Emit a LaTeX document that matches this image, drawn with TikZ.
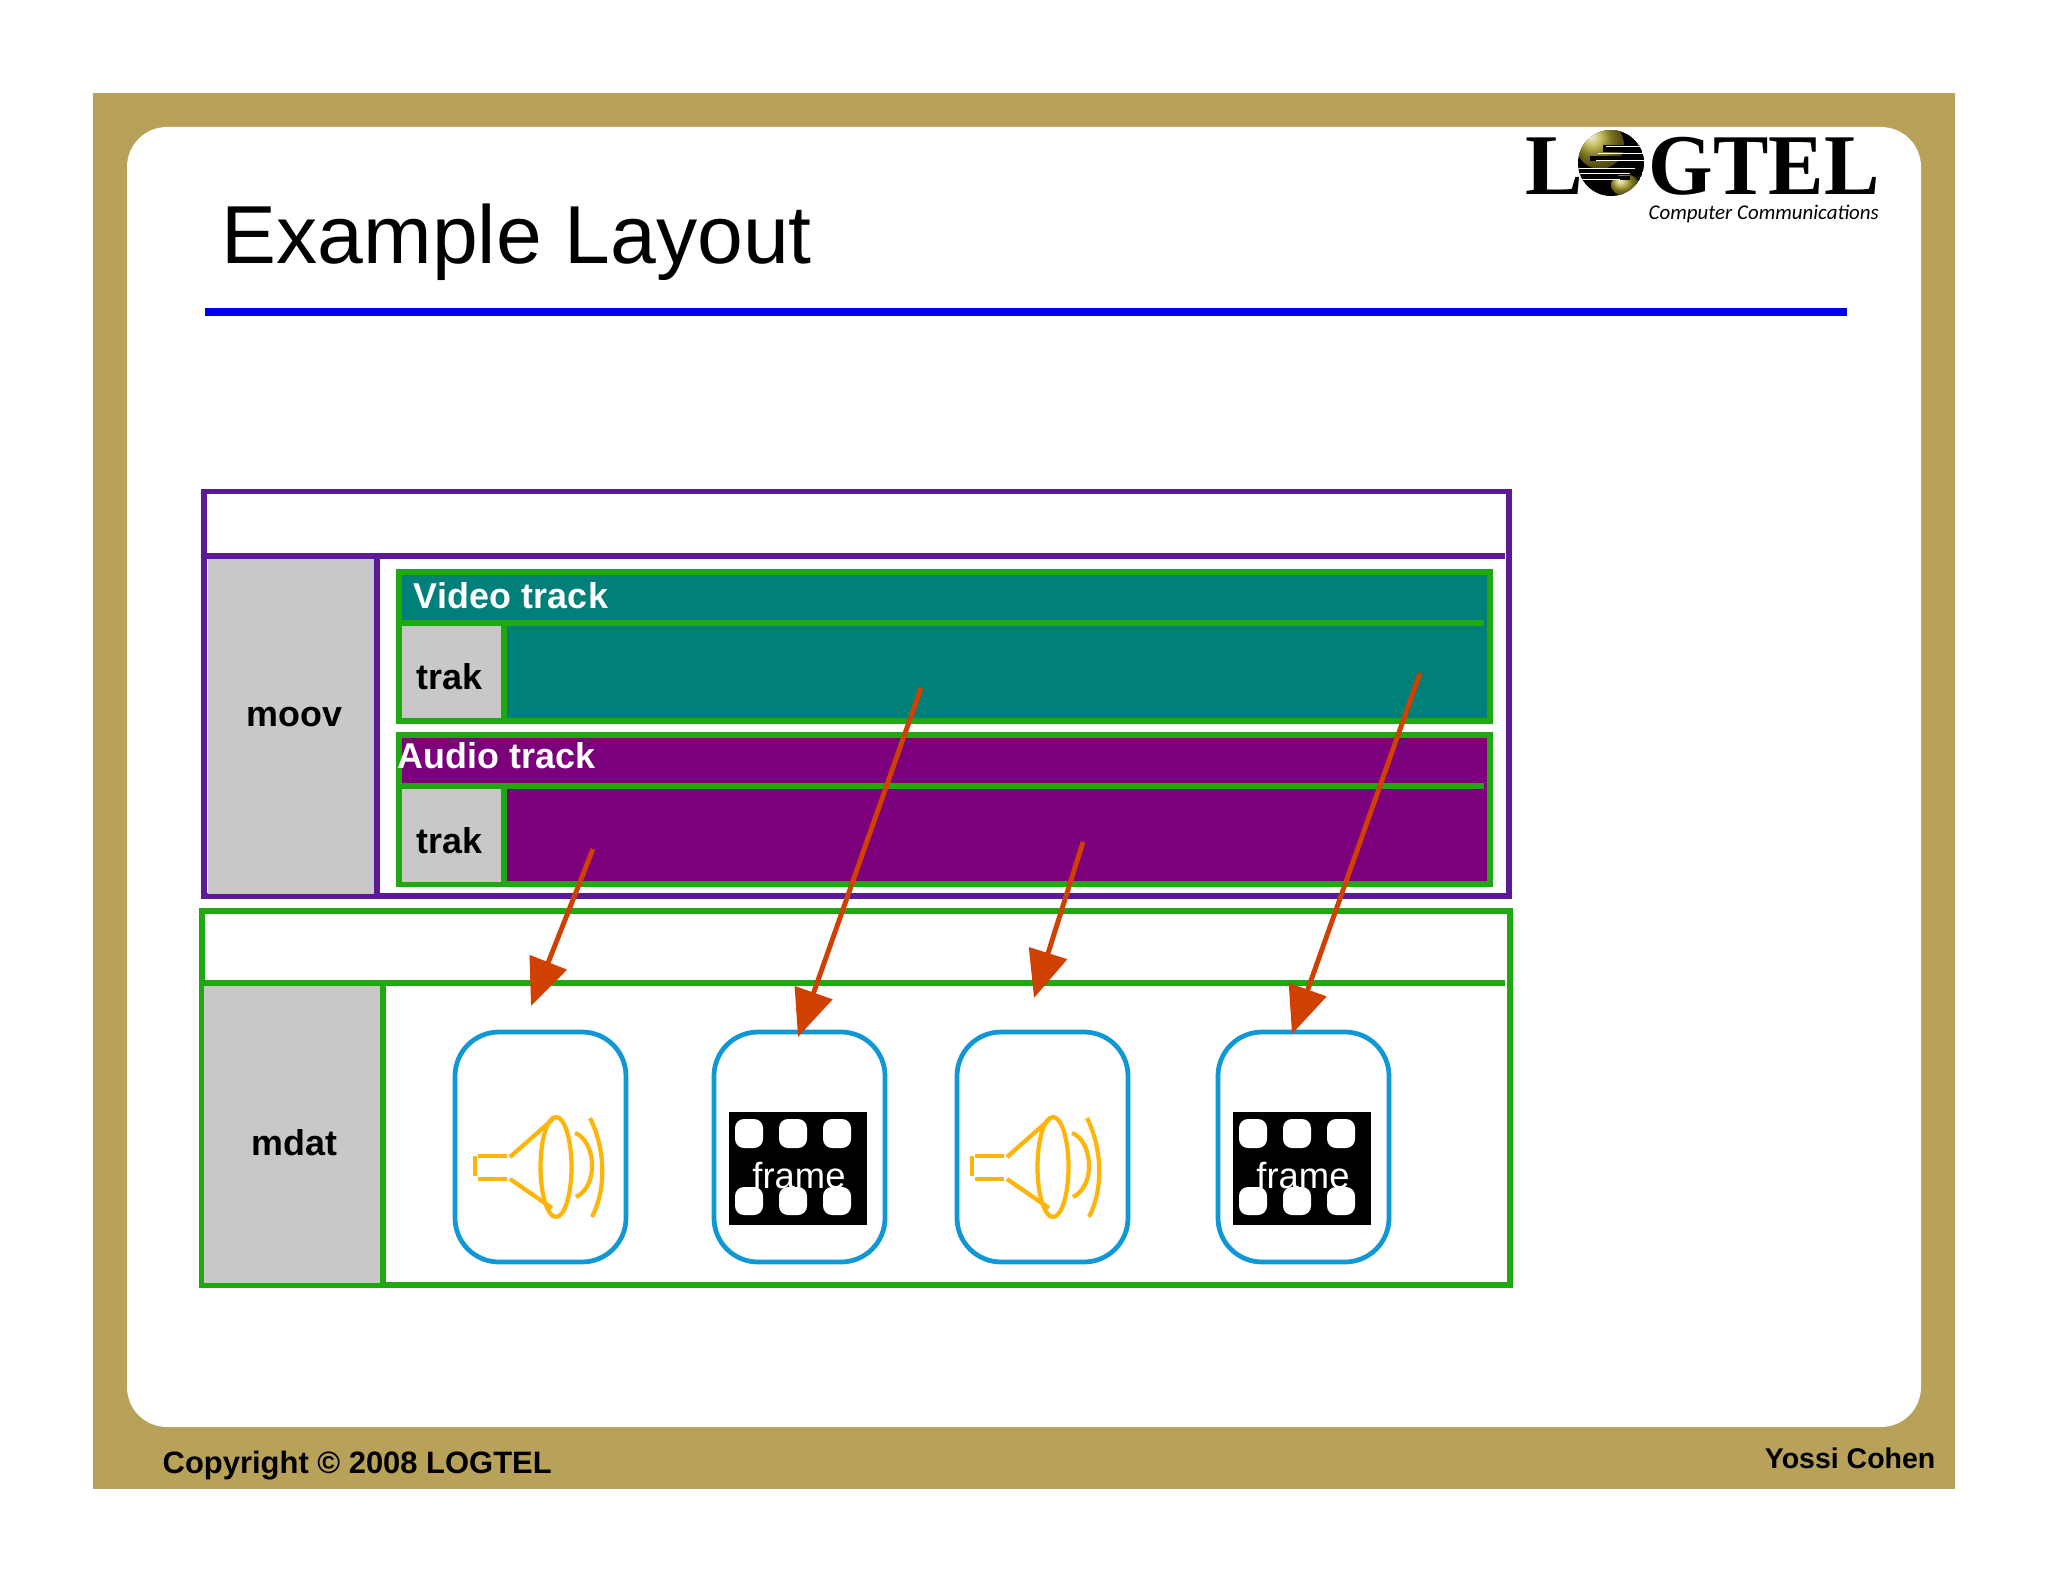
\documentclass[tikz,border=0pt]{standalone}
\usepackage{fontspec}
\setmainfont{Liberation Sans}
\newfontfamily\logoserif{Liberation Serif}
\newfontfamily\logosans{Carlito}
\usetikzlibrary{arrows.meta}
\definecolor{goldbar}{HTML}{B8A25A}
\definecolor{rulecol}{HTML}{0000F0}
\definecolor{boxpurple}{HTML}{5C1A99}
\definecolor{boxgreen}{HTML}{1FA80F}
\definecolor{tealfill}{HTML}{008078}
\definecolor{plumfill}{HTML}{7C007C}
\definecolor{greyfill}{HTML}{C8C8C6}
\definecolor{iconblue}{HTML}{0F97D6}
\definecolor{iconorange}{HTML}{FFB40A}
\definecolor{arrowred}{HTML}{D04000}
\definecolor{globeolive}{HTML}{B3A62E}
\tikzset{
  x=0.01cm,y=-0.01cm,
  purpleline/.style={draw=boxpurple,line width=1.5pt},
  greenline/.style={draw=boxgreen,line width=1.5pt},
  iconbox/.style={draw=iconblue,line width=1.35pt,fill=white,rounded corners=0.44cm},
  txt/.style={inner sep=0pt,anchor=base west,font=\bfseries\fontsize{10.2}{12}\selectfont},
  framelabel/.style={inner sep=0pt,anchor=base,text=white,font=\fontsize{10.35}{12}\selectfont},
  speakerline/.style={draw=iconorange,line width=1.2pt},
  redarrow/.style={draw=arrowred,line width=1.4pt,-{Triangle[length=0.47cm,width=0.39cm]},fill=arrowred},
}
\newcommand{\speakericon}[1]{%
  \begin{scope}[shift={(#1,0)}]
    \draw[speakerline] (507,1155.7) -- (478,1155.7);
    \draw[speakerline] (475,1156) -- (475,1176);
    \draw[speakerline] (478,1179) -- (507,1179);
    \draw[speakerline] (510,1157) -- (553,1119);
    \draw[speakerline] (510,1179) -- (552,1208);
    \draw[speakerline] (556,1167) ellipse [x radius=15.5,y radius=50];
    \draw[speakerline] (575,1133) .. controls (595,1140) and (600,1185) .. (576,1197);
    \draw[speakerline] (590,1118) .. controls (606,1150) and (606,1190) .. (592,1217);
  \end{scope}}
\newcommand{\filmicon}[2]{%
  \fill[black] (#1,1112) rectangle ++(138,113);
  \foreach \hx in {6,50,94}{
    \fill[white,rounded corners=0.09cm] (#1+\hx,1119) rectangle ++(28,29);
    \fill[white,rounded corners=0.09cm] (#1+\hx,1187) rectangle ++(28,28);
  }
  \node[framelabel] (#2) at (#1+70,1188) {frame};}
\begin{document}
\begin{tikzpicture}
\useasboundingbox (0,0) rectangle (2048,1582);
\fill[white] (0,0) rectangle (2048,1582);
% slide frame
\fill[goldbar] (93,93) rectangle (1955,1489);
\fill[white,rounded corners=0.4cm] (127,127) rectangle (1921,1427);
% title
\node[inner sep=0pt,anchor=base west,font=\fontsize{23.4}{28}\selectfont] (title) at (221,264) {Example Layout};
\fill[rulecol] (205,308) rectangle (1847,316);
% logo
\node[inner sep=0pt,anchor=base west,font=\logoserif\bfseries\fontsize{24.6}{28}\selectfont] (logoL) at (1525,195) {L};
\node[inner sep=0pt,anchor=base west,font=\logoserif\bfseries\fontsize{24.6}{28}\selectfont] (logoG) at (1648,195) {\scalebox{.96}[1]{GTEL}};
\begin{scope}
  \clip (1611,163) circle [radius=33];
  \fill[black] (1611,163) circle [radius=33];
  \shade[ball color=globeolive] (1600,145) circle [radius=24];
  \shade[ball color=globeolive] (1625,185) ellipse [x radius=14,y radius=11];
  \fill[black] (1603,145) rectangle (1650,152);
  \fill[white] (1606,146) rectangle (1640,147.5);
  \fill[white] (1598,153) rectangle (1645,154.5);
  \fill[black] (1590,156) rectangle (1650,161);
  \fill[white] (1596,160) rectangle (1645,161.5);
  \fill[white] (1578,168) rectangle (1635,169.5);
  \fill[black] (1578,170) rectangle (1640,175);
  \fill[white] (1578,173) rectangle (1630,174.5);
  \fill[black] (1578,176) rectangle (1630,180);
  \fill[white] (1578,179) rectangle (1620,180.5);
\end{scope}
\node[inner sep=0pt,anchor=base west,font=\logosans\itshape\fontsize{5.95}{8}\selectfont] (logotag) at (1648,219) {Computer Communications};
% moov box
\draw[purpleline,fill=white] (204,491.5) rectangle (1509,896);
\fill[greyfill] (208,558) rectangle (375,894);
\draw[purpleline] (204,556) -- (1505,556);
\draw[purpleline] (377,556) -- (377,896);
\node[txt,text=black] (moov) at (246,726) {moov};
% video track
\draw[greenline,fill=tealfill] (399,572) rectangle (1490,721);
\fill[greyfill] (402,626) rectangle (502,718);
\draw[greenline] (399,623) -- (1484,623);
\draw[greenline] (504,623) -- (504,721);
\node[txt,text=white] (videolabel) at (413,608) {\addfontfeature{LetterSpace=0.5}Video track};
\node[txt,text=black] (trakv) at (416,689) {trak};
% audio track
\draw[greenline,fill=plumfill] (399,735) rectangle (1490,884);
\fill[greyfill] (402,789) rectangle (502,882);
\draw[greenline] (399,786) -- (1484,786);
\draw[greenline] (504,786) -- (504,884);
\node[txt,text=white] (audiolabel) at (397,768) {Audio track};
\node[txt,text=black] (traka) at (416,853) {trak};
% mdat box
\draw[greenline,fill=white] (202,911) rectangle (1510,1285);
\fill[greyfill] (204,985) rectangle (381,1283);
\draw[greenline] (202,983) -- (1505,983);
\draw[greenline] (383,983) -- (383,1285);
\node[txt,text=black] (mdat) at (251,1155) {mdat};
% icons
\draw[iconbox] (455,1032) rectangle (626,1262);
\draw[iconbox] (714,1032) rectangle (885,1262);
\draw[iconbox] (957,1032) rectangle (1128,1262);
\draw[iconbox] (1218,1032) rectangle (1389,1262);
\speakericon{0}
\speakericon{497}
\filmicon{729}{frameA}
\filmicon{1233}{frameB}
% connectors
\coordinate (a1s) at (593,849); \coordinate (a1e) at (531,1006);
\coordinate (a2s) at (921,688); \coordinate (a2e) at (798,1037);
\coordinate (a3s) at (1083,842); \coordinate (a3e) at (1034,998);
\coordinate (a4s) at (1420,673); \coordinate (a4e) at (1292,1034);
\draw[redarrow] (a1s) -- (a1e);
\draw[redarrow] (a2s) -- (a2e);
\draw[redarrow] (a3s) -- (a3e);
\draw[redarrow] (a4s) -- (a4e);
% footer
\node[inner sep=0pt,anchor=base west,font=\bfseries\fontsize{8.8}{10}\selectfont] (copy) at (162,1473) {Copyright © 2008 LOGTEL};
\node[inner sep=0pt,anchor=base east,font=\bfseries\fontsize{8.1}{10}\selectfont] (author) at (1936,1468) {Yossi Cohen};
\end{tikzpicture}
\end{document}
